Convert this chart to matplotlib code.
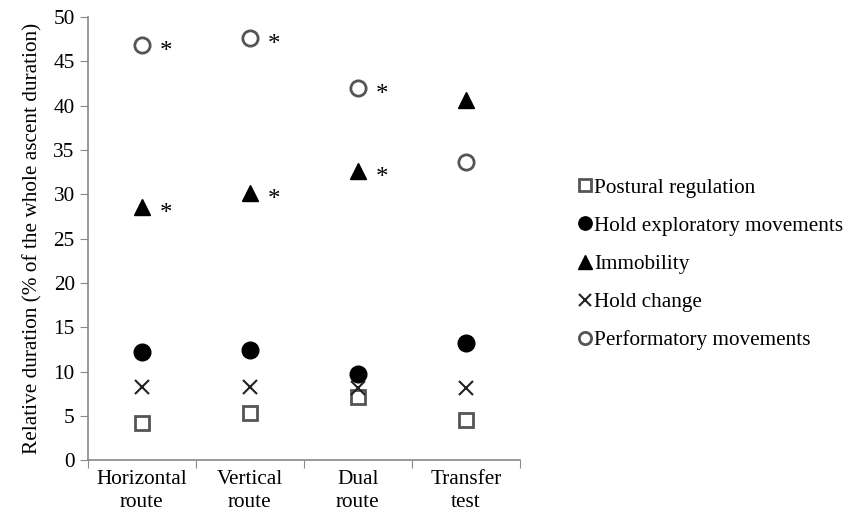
import matplotlib
matplotlib.use('Agg')
import matplotlib.pyplot as plt

plt.rcParams['font.family'] = ['Liberation Serif', 'DejaVu Serif']

categories = ["Horizontal\nroute", "Vertical\nroute", "Dual\nroute", "Transfer\ntest"]
postural = [4.2, 5.3, 7.1, 4.5]
hold_expl = [12.2, 12.4, 9.7, 13.2]
immobility = [28.6, 30.1, 32.6, 40.6]
hold_change = [8.3, 8.3, 8.1, 8.1]
performatory = [46.8, 47.6, 42.0, 33.6]
# which points carry a significance star
star_perf = [True, True, True, False]
star_imm = [True, True, True, False]

fig = plt.figure(figsize=(8.45, 5.13), dpi=100)
ax = fig.add_axes([0.104, 0.103, 0.511, 0.864])

x = range(len(categories))
grey = "#555555"
ax.plot(x, postural, "s", ms=10, mfc="white", mec=grey, mew=2, label="Postural regulation")
ax.plot(x, hold_expl, "o", ms=12, mfc="black", mec="black", label="Hold exploratory movements")
ax.plot(x, immobility, "^", ms=12, mfc="black", mec="black", label="Immobility")
ax.plot(x, hold_change, "x", ms=10, color="#222222", mew=1.5, label="Hold change")
ax.plot(x, performatory, "o", ms=11, mfc="white", mec=grey, mew=2, label="Performatory movements")

for i in x:
    if star_perf[i]:
        ax.annotate("*", (i, performatory[i]), xytext=(13, -5), textcoords="offset points",
                    fontsize=18, va="center")
    if star_imm[i]:
        ax.annotate("*", (i, immobility[i]), xytext=(13, -5), textcoords="offset points",
                    fontsize=18, va="center")

ax.set_xlim(-0.5, 3.5)
ax.set_ylim(0, 50)
ax.set_yticks(range(0, 51, 5))
ax.set_xticks([-0.5, 0.5, 1.5, 2.5, 3.5])
ax.set_xticklabels([])
ax.set_xticks(list(x), minor=True)
ax.set_xticklabels(categories, minor=True, linespacing=1.3)
ax.tick_params(axis="x", which="minor", length=0, labelsize=15.3, pad=7)
ax.tick_params(axis="x", which="major", length=6, color="#888888")
ax.tick_params(axis="y", length=6, color="#888888", labelsize=15.3)
for s in ["top", "right"]:
    ax.spines[s].set_visible(False)
for s in ["left", "bottom"]:
    ax.spines[s].set_color("#888888")
    ax.spines[s].set_linewidth(1.2)
ax.set_ylabel("Relative duration (% of the whole ascent duration)", fontsize=15.3, labelpad=8)

leg = ax.legend(loc="upper left", bbox_to_anchor=(0.672, 0.67), bbox_transform=fig.transFigure,
                frameon=False, fontsize=15.3, handletextpad=0.05, handlelength=0.8,
                labelspacing=0.86, markerscale=0.8, borderaxespad=0)

fig.savefig("out.png", dpi=100)
